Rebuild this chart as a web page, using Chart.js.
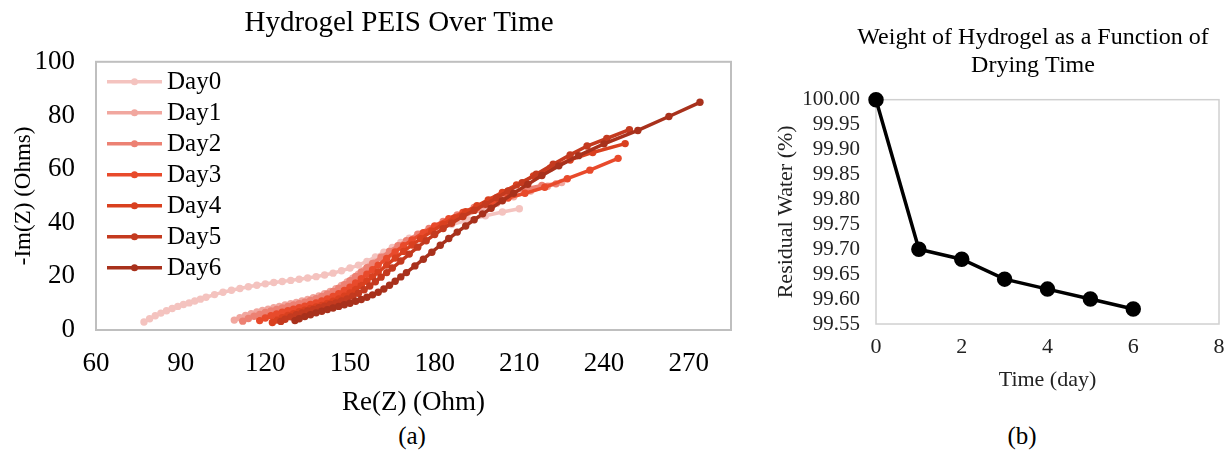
<!DOCTYPE html>
<html>
<head>
<meta charset="utf-8">
<script src="https://cdn.jsdelivr.net/npm/chart.js@4.4.1/dist/chart.umd.min.js"></script>
<style>
  html, body { margin: 0; padding: 0; background: #fff; overflow: hidden; }
  body { width: 1226px; height: 453px; position: relative; font-family: "Liberation Serif", "Times New Roman", serif; }
  #peis { position: absolute; left: 0; top: 0; }
  #weight { position: absolute; left: 760px; top: 0; }
  .tag { position: absolute; top: 422px; font-size: 25px; width: 60px; text-align: center; }
</style>
</head>
<body>
<canvas id="peis" width="800" height="420"></canvas>
<canvas id="weight" width="546" height="400"></canvas>
<div class="tag" style="left:382px">(a)</div>
<div class="tag" style="left:992px">(b)</div>
<script>
// ---- data (a): PEIS, Re(Z) / -Im(Z) per day ----
const dayLabels = ['Day0', 'Day1', 'Day2', 'Day3', 'Day4', 'Day5', 'Day6'];
const dayColors = ['#F4C3BF', '#F1A79F', '#EC8173', '#E84A2B', '#D9401F', '#C43A1F', '#A8311C'];

const reDay0 = [77, 79, 81, 83, 85, 87, 89, 91, 93, 95, 97, 99, 102, 105, 108, 111, 114, 117, 120, 123, 126, 129, 132, 135, 138, 141, 144, 147, 150, 153, 156, 159, 162, 165, 168, 171, 175, 180, 186, 192, 198, 204, 210];
const imDay0 = [3, 4.2, 5.3, 6.3, 7.2, 8, 8.8, 9.5, 10.1, 10.8, 11.5, 12.2, 13.2, 14.1, 14.8, 15.5, 16.1, 16.7, 17.2, 17.7, 18.1, 18.5, 18.9, 19.4, 19.9, 20.5, 21.2, 22.1, 23.1, 24.2, 25.6, 27.2, 29, 30.8, 32.6, 34.2, 35.8, 37.5, 39.3, 41, 42.6, 44, 45.2];

const reDay1 = [109, 111, 113, 115, 117, 119, 121, 123, 125, 127, 129, 131, 133, 135, 137, 139, 141, 143, 145, 147, 149, 151, 153, 155, 157, 159, 162, 165, 168, 171, 175, 180, 185, 190, 196, 202, 208, 214, 220, 225];
const imDay1 = [3.7, 4.6, 5.4, 6.1, 6.7, 7.3, 7.8, 8.3, 8.8, 9.3, 9.8, 10.3, 10.8, 11.4, 12, 12.7, 13.5, 14.4, 15.4, 16.6, 17.9, 19.3, 20.8, 22.3, 23.8, 25.3, 27.4, 29.4, 31.3, 33.1, 35.3, 37.8, 40.1, 42.3, 44.8, 47.3, 49.7, 51.8, 53.6, 55];

const reDay2 = [112, 114, 116, 118, 120, 122, 124, 126, 128, 130, 132, 134, 136, 138, 140, 142, 144, 146, 148, 150, 152, 154, 156, 158, 161, 164, 167, 170, 174, 178, 183, 188, 194, 200, 206, 212, 218, 223];
const imDay2 = [3.3, 4.3, 5.1, 5.8, 6.5, 7.1, 7.7, 8.2, 8.8, 9.3, 9.8, 10.4, 11, 11.7, 12.5, 13.4, 14.4, 15.6, 16.9, 18.4, 20, 21.6, 23.2, 24.8, 27.1, 29.3, 31.4, 33.3, 35.7, 37.9, 40.5, 42.9, 45.7, 48.4, 50.8, 52.6, 53.9, 54.5];

const reDay3 = [118, 120, 122, 124, 126, 128, 130, 132, 134, 136, 138, 140, 142, 144, 146, 148, 150, 152, 154, 156, 158, 160, 163, 166, 169, 172, 176, 180, 185, 190, 195, 200, 206, 212, 219, 227, 235, 245];
const imDay3 = [3.5, 4.5, 5.3, 6, 6.6, 7.2, 7.8, 8.3, 8.9, 9.5, 10.1, 10.8, 11.6, 12.5, 13.5, 14.7, 16, 17.5, 19.1, 20.8, 22.5, 24.2, 26.7, 29.1, 31.4, 33.6, 36.3, 38.8, 41.5, 43.8, 45.7, 47.4, 49.2, 51, 53.2, 56.4, 59.6, 64];

const reDay4 = [122.5, 124, 126, 128, 130, 132, 134, 136, 138, 140, 142, 144, 146, 148, 150, 152, 154, 156, 158, 160, 163, 166, 169, 172, 175, 179, 183, 187, 191, 195, 199, 204, 209, 215, 221, 228, 236, 247.5];
const imDay4 = [2.8, 3.7, 4.6, 5.4, 6.1, 6.8, 7.4, 8, 8.6, 9.2, 9.9, 10.7, 11.6, 12.6, 13.8, 15.1, 16.6, 18.2, 19.9, 21.6, 24.2, 26.8, 29.3, 31.7, 34, 36.8, 39.4, 41.8, 44.1, 46.3, 48.5, 51.3, 54.1, 57.4, 60.4, 63.4, 66.2, 69.5];

const reDay5 = [125.5, 127, 129, 131, 133, 135, 137, 139, 141, 143, 145, 147, 149, 151, 153, 155, 157, 159, 161, 163, 165, 168, 171, 174, 177, 180, 183, 186, 190, 194, 198, 202, 206, 211, 216, 222, 228, 234, 241, 249];
const imDay5 = [3.2, 4, 4.9, 5.7, 6.4, 7.1, 7.7, 8.3, 8.9, 9.5, 10.1, 10.8, 11.6, 12.6, 13.7, 15, 16.4, 18, 19.7, 21.4, 23.1, 25.7, 28.3, 30.9, 33.3, 35.6, 37.8, 39.8, 42.3, 44.6, 46.9, 49.3, 51.8, 54.9, 58.1, 61.8, 65.3, 68.6, 71.4, 74.7];

const reDay6 = [130.5, 132, 134, 136, 138, 140, 142, 144, 146, 148, 150, 152, 154, 156, 158, 160, 162, 164, 166, 168, 170, 173, 176, 179, 182, 185, 188, 191, 194, 197, 200, 204, 208, 213, 218, 224, 231, 240, 252, 263, 274];
const imDay6 = [3.5, 4.2, 5, 5.7, 6.4, 7, 7.6, 8.2, 8.8, 9.4, 10, 10.7, 11.4, 12.2, 13.1, 14.1, 15.3, 16.7, 18.2, 19.8, 21.4, 23.9, 26.4, 29, 31.6, 34.1, 36.5, 38.8, 41.1, 43.3, 45.4, 48.2, 51, 54.3, 57.6, 61.2, 65, 69.4, 74.4, 79.6, 84.9];

const reTicks = [60, 90, 120, 150, 180, 210, 240, 270];
const imTicks = [0, 20, 40, 60, 80, 100];

// ---- data (b): residual water vs drying time ----
const days = [0, 1, 2, 3, 4, 5, 6];
const residualWater = [100.0, 99.7, 99.68, 99.64, 99.62, 99.6, 99.58];
const dayTicks = [0, 2, 4, 6, 8];
const waterTicks = [99.55, 99.6, 99.65, 99.7, 99.75, 99.8, 99.85, 99.9, 99.95, 100.0];

const serif = '"Liberation Serif", "Times New Roman", serif';
Chart.defaults.font.family = serif;
Chart.defaults.color = '#000';

const reAll = [reDay0, reDay1, reDay2, reDay3, reDay4, reDay5, reDay6];
const imAll = [imDay0, imDay1, imDay2, imDay3, imDay4, imDay5, imDay6];

//grey box round the plot area
function framePlugin(color, width) {
  return {
    id: 'frame',
    beforeDatasetsDraw(chart) {
      const { ctx, chartArea } = chart;
      ctx.save();
      ctx.strokeStyle = color;
      ctx.lineWidth = width;
      ctx.strokeRect(chartArea.left, chartArea.top, chartArea.right - chartArea.left, chartArea.bottom - chartArea.top);
      ctx.restore();
    },
  };
}

//legend drawn inside the plot, Excel style (line with a dot)
const insideLegend = {
  id: 'insideLegend',
  afterDatasetsDraw(chart) {
    const { ctx, chartArea } = chart;
    ctx.save();
    ctx.font = '25px ' + serif;
    ctx.textBaseline = 'middle';
    chart.data.datasets.forEach((ds, i) => {
      const y = chartArea.top + 20 + i * 31;
      const x0 = chartArea.left + 11;
      ctx.strokeStyle = ds.borderColor;
      ctx.lineWidth = 3.5;
      ctx.beginPath();
      ctx.moveTo(x0, y);
      ctx.lineTo(x0 + 55, y);
      ctx.stroke();
      ctx.fillStyle = ds.borderColor;
      ctx.beginPath();
      ctx.arc(x0 + 27.5, y, 3.5, 0, Math.PI * 2);
      ctx.fill();
      ctx.fillStyle = '#000';
      ctx.fillText(ds.label, x0 + 60, y + 1);
    });
    ctx.restore();
  },
};

const peisSets = dayLabels.map((label, i) => ({
  label: label,
  data: reAll[i].map((re, j) => ({ x: re, y: imAll[i][j] })),
  borderColor: dayColors[i],
  backgroundColor: dayColors[i],
  borderWidth: 3.5,
  pointRadius: 3.7,
  pointBorderWidth: 0,
  order: dayLabels.length - i,
  clip: false,
}));

new Chart(document.getElementById('peis'), {
  type: 'line',
  data: { datasets: peisSets },
  options: {
    responsive: false,
    animation: false,
    devicePixelRatio: 1,
    layout: { padding: { left: 6, right: 8, top: 0, bottom: 0 } },
    plugins: {
      legend: { display: false },
      tooltip: { enabled: false },
      title: {
        display: true,
        text: 'Hydrogel PEIS Over Time',
        color: '#000',
        font: { size: 29, weight: 'normal' },
        padding: { top: 6, bottom: 21 },
      },
    },
    scales: {
      x: {
        type: 'linear',
        min: 60,
        max: 285,
        grid: { display: false, drawTicks: false },
        border: { display: false },
        afterBuildTicks: (axis) => {
          axis.ticks = reTicks.map((v) => ({ value: v }));
        },
        afterFit: (s) => {
          s.height = 90;
        },
        ticks: { font: { size: 27 }, padding: 18, maxRotation: 0, autoSkip: false },
        title: { display: true, text: 'Re(Z) (Ohm)', font: { size: 27 }, padding: { top: 6, bottom: 1 } },
      },
      y: {
        type: 'linear',
        min: 0,
        max: 100,
        grid: { display: false, drawTicks: false },
        border: { display: false },
        afterBuildTicks: (axis) => {
          axis.ticks = imTicks.map((v) => ({ value: v }));
        },
        afterFit: (s) => {
          s.width = 90;
        },
        ticks: { font: { size: 27 }, padding: 21, autoSkip: false },
        title: { display: true, text: '-Im(Z) (Ohms)', font: { size: 23 }, padding: { top: 4, bottom: 0 } },
      },
      yPad: {
        type: 'linear',
        position: 'right',
        grid: { display: false, drawTicks: false },
        border: { display: false },
        ticks: { display: false },
        afterFit: (s) => {
          s.width = 61;
        },
      },
    },
  },
  plugins: [framePlugin('#BFBFBF', 2), insideLegend],
});

new Chart(document.getElementById('weight'), {
  type: 'line',
  data: {
    datasets: [
      {
        label: 'Residual Water',
        data: days.map((d, i) => ({ x: d, y: residualWater[i] })),
        borderColor: '#000',
        backgroundColor: '#000',
        borderWidth: 3.5,
        pointRadius: 6,
        clip: false,
      },
    ],
  },
  options: {
    responsive: false,
    animation: false,
    devicePixelRatio: 1,
    layout: { padding: { left: 6, right: 6, top: 0, bottom: 0 } },
    plugins: {
      legend: { display: false },
      tooltip: { enabled: false },
      title: {
        display: true,
        text: ['Weight of Hydrogel as a Function of', 'Drying Time'],
        color: '#000',
        font: { size: 24, weight: 'normal', lineHeight: 1.16 },
        padding: { top: 24, bottom: 20 },
      },
    },
    scales: {
      x: {
        type: 'linear',
        min: 0,
        max: 8,
        grid: { display: false, drawTicks: false },
        border: { display: false },
        afterBuildTicks: (axis) => {
          axis.ticks = dayTicks.map((v) => ({ value: v }));
        },
        afterFit: (s) => {
          s.height = 76;
        },
        ticks: { font: { size: 22 }, color: '#222', padding: 10, maxRotation: 0, autoSkip: false },
        title: { display: true, text: 'Time (day)', font: { size: 22 }, color: '#222', padding: { top: 6, bottom: 7 } },
      },
      y: {
        type: 'linear',
        min: 99.55,
        max: 100,
        grid: { display: false, drawTicks: false },
        border: { display: false },
        afterBuildTicks: (axis) => {
          axis.ticks = waterTicks.map((v) => ({ value: v }));
        },
        afterFit: (s) => {
          s.width = 110;
        },
        ticks: { font: { size: 21 }, color: '#222', padding: 16, autoSkip: false, callback: (v) => v.toFixed(2) },
        title: { display: true, text: 'Residual Water (%)', font: { size: 22 }, color: '#222', padding: { top: 7, bottom: 0 } },
      },
      yPad: {
        type: 'linear',
        position: 'right',
        grid: { display: false, drawTicks: false },
        border: { display: false },
        ticks: { display: false },
        afterFit: (s) => {
          s.width = 81;
        },
      },
    },
  },
  plugins: [framePlugin('#D0D0D0', 1.5)],
});
</script>
</body>
</html>
